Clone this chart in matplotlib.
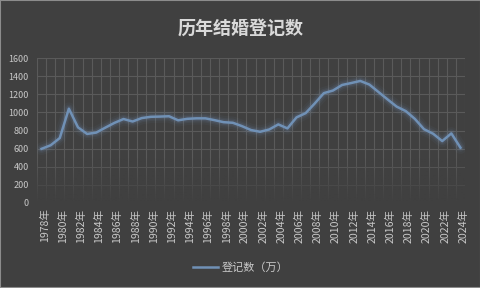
import numpy as np
import matplotlib
matplotlib.use("Agg")
import matplotlib.pyplot as plt
import matplotlib.transforms as mtransforms

plt.rcParams['font.family'] = ['Noto Sans CJK SC', 'DejaVu Sans']

years = list(range(1978, 2025))
labels = [f"{y}年" for y in years]
values = [597.8, 637.1, 716.6, 1040.9, 835.0, 762.0, 777.0, 831.3, 884.0, 926.7,
          899.3, 937.2, 951.1, 953.6, 957.3, 912.4, 929.0, 934.1, 934.0, 914.1,
          891.7, 885.3, 848.5, 805.0, 786.0, 811.4, 867.2, 823.1, 945.0, 991.4,
          1098.3, 1212.4, 1241.0, 1302.4, 1323.6, 1346.9, 1306.7, 1224.7, 1142.8, 1063.1,
          1013.9, 927.3, 814.3, 764.3, 683.5, 768.0, 610.6]

bg = '#404040'
W, H = 481, 288
fig = plt.figure(figsize=(W / 100, H / 100), dpi=100, facecolor=bg)
fig.patches.append(plt.Rectangle((0, 0), 1, 1, transform=fig.transFigure,
                                 fill=False, edgecolor='#8c8c8c', lw=1.5))

ax = fig.add_axes([37 / W, 85 / H, 428 / W, 145 / H], facecolor=bg)
x = np.arange(len(years))

# glow + line
for lw, a in [(9, 0.05), (6, 0.08), (4, 0.12)]:
    ax.plot(x, values, color='#7a9cc6', lw=lw, alpha=a, solid_capstyle='round', zorder=4)
main, = ax.plot(x, values, color='#7091b6', lw=1.8, zorder=5)

ax.set_yticks(range(0, 1601, 200))
ax.set_xticks(x[::2])
ax.set_xticklabels(labels[::2], rotation=90, fontsize=7.6, color='#c8c8c8')
ax.set_xticks(np.arange(-0.5, len(years), 1), minor=True)
ax.tick_params(axis='y', labelsize=6.5, colors='#c8c8c8', length=0, pad=6)
ax.tick_params(axis='x', which='both', length=0, pad=4)
offset = mtransforms.ScaledTranslation(3 / 100, 0, fig.dpi_scale_trans)
for t in ax.get_xticklabels():
    t.set_transform(t.get_transform() + offset)
ax.grid(True, which='major', axis='y', color='#5a5a5a', lw=0.8)
ax.grid(True, which='minor', axis='x', color='#5a5a5a', lw=0.8)
ax.set_axisbelow(True)
for s in ax.spines.values():
    s.set_visible(False)

# fade grid toward the bottom
grad = np.zeros((100, 1, 4))
grad[..., :3] = matplotlib.colors.to_rgb(bg)
grad[:, 0, 3] = np.clip(np.linspace(1.0, -0.6, 100), 0, 1)
ax.imshow(grad, extent=[-0.5, len(years) - 0.5, 0, 800], aspect='auto',
          origin='lower', zorder=2, interpolation='bilinear')
ax.set_xlim(-0.5, len(years) - 0.5)
ax.set_ylim(0, 1600)

fig.text(0.5, 1 - 28 / H, '历年结婚登记数', ha='center', va='center',
         fontsize=13, fontweight='bold', color='#d9d9d9')

ax.legend([main], ['登记数（万）'], loc='center', bbox_to_anchor=(0.5, 1 - 268 / H),
          bbox_transform=fig.transFigure, frameon=False, fontsize=8,
          handlelength=2.3, handletextpad=0.3, labelcolor='#c8c8c8')

fig.savefig('out.png', dpi=100, facecolor=bg)
